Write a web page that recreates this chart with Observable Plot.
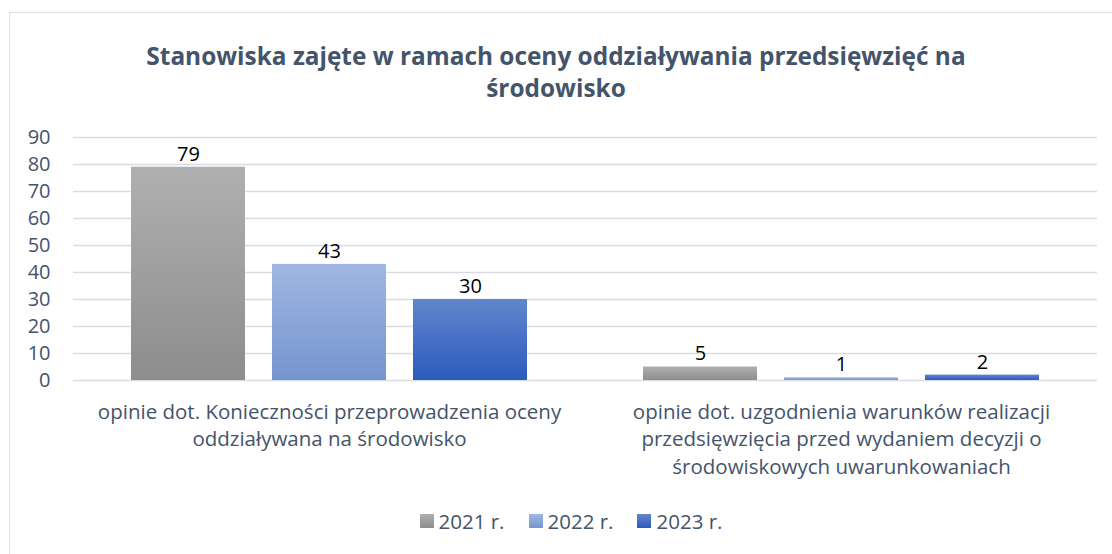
<!DOCTYPE html>
<html>
<head>
<meta charset="utf-8">
<script src="https://cdn.jsdelivr.net/npm/d3@7"></script>
<script src="https://cdn.jsdelivr.net/npm/@observablehq/plot@0.6"></script>
<style>
  html, body { margin: 0; padding: 0; background: #fff; overflow: hidden; }
  #wrap { position: relative; width: 1112px; height: 554px; font-family: "Open Sans", sans-serif; }
  #frame { position: absolute; left: 9px; top: 12px; width: 1200px; height: 700px; border: 1.5px solid #dde1e7; box-sizing: border-box; }
  #title { position: absolute; left: 0; top: 40px; width: 1112px; text-align: center; font-weight: 700; font-size: 24.4px; line-height: 32px; color: #44546A; }
  #chart { position: absolute; left: 0; top: 120px; }
  #legend { position: absolute; left: 15px; top: 507px; width: 1112px; display: flex; justify-content: center; align-items: center; gap: 24px; font-size: 20.5px; color: #44546A; }
  .item { display: flex; align-items: center; gap: 5px; }
  .sw { width: 14px; height: 14px; }
</style>
</head>
<body>
<div id="wrap">
  <div id="frame"></div>
  <div id="title">Stanowiska zajęte w ramach oceny oddziaływania przedsięwzięć na<br>środowisko</div>
  <div id="chart"></div>
  <div id="legend"></div>
</div>
<script>
// ---- data ----
const categories = [
  "opinie dot. Konieczności przeprowadzenia oceny\noddziaływana na środowisko",
  "opinie dot. uzgodnienia warunków realizacji\nprzedsięwzięcia przed wydaniem decyzji o\nśrodowiskowych uwarunkowaniach"
];
const years = ["2021 r.", "2022 r.", "2023 r."];
const values2021 = [79, 5];
const values2022 = [43, 1];
const values2023 = [30, 2];
const yTicks = [0, 10, 20, 30, 40, 50, 60, 70, 80, 90];

// gradients (top, bottom) per series
const gradTop = ["#b0b0b0", "#a0b7e2", "#6186ce"];
const gradBottom = ["#8d8d8d", "#7595ce", "#2b5bbc"];
const gradIds = ["g2021", "g2022", "g2023"];

const series = [values2021, values2022, values2023];
const data = [];
categories.forEach((c, i) => {
  years.forEach((y, j) => data.push({cat: c, year: y, value: series[j][i]}));
});

const plot = Plot.plot({
  width: 1112,
  height: 370,
  marginLeft: 72,
  marginRight: 15,
  marginTop: 17,
  marginBottom: 110,
  style: {fontFamily: "Open Sans, sans-serif", fontSize: "20px", color: "#44546A", background: "transparent"},
  fx: {domain: categories, padding: 0, axis: null},
  x: {domain: years, paddingInner: 0.19, paddingOuter: 0.4, axis: null},
  y: {domain: [0, 90], axis: null},
  color: {domain: years, range: gradIds.map(id => `url(#${id})`)},
  marks: [
    Plot.gridY(yTicks, {stroke: "#d9dde3", strokeOpacity: 1, strokeWidth: 1.5}),
    Plot.axisY(yTicks, {tickSize: 0, tickPadding: 23, fontSize: 20, fill: "#44546A", label: null}),
    Plot.barY(data, {fx: "cat", x: "year", y: "value", fill: "year"}),
    Plot.text(data, {fx: "cat", x: "year", y: "value", text: d => String(d.value), lineAnchor: "middle", dy: -13, fill: "#000", fontSize: 20}),
    Plot.axisFx({anchor: "bottom", tickSize: 0, tickPadding: 19, lineHeight: 1.34, fontSize: 20.5, fill: "#44546A", label: null})
  ]
});

// gradient definitions (per-bar, top to bottom)
const defs = d3.select(plot).insert("defs", ":first-child");
gradIds.forEach((id, i) => {
  const g = defs.append("linearGradient").attr("id", id).attr("x1", 0).attr("y1", 0).attr("x2", 0).attr("y2", 1);
  g.append("stop").attr("offset", "0%").attr("stop-color", gradTop[i]);
  g.append("stop").attr("offset", "100%").attr("stop-color", gradBottom[i]);
});
document.getElementById("chart").appendChild(plot);

// legend
const legend = document.getElementById("legend");
years.forEach((y, i) => {
  const item = document.createElement("div");
  item.className = "item";
  const sw = document.createElement("div");
  sw.className = "sw";
  sw.style.background = `linear-gradient(${gradTop[i]}, ${gradBottom[i]})`;
  const t = document.createElement("span");
  t.textContent = y;
  item.appendChild(sw); item.appendChild(t);
  legend.appendChild(item);
});
</script>
</body>
</html>
